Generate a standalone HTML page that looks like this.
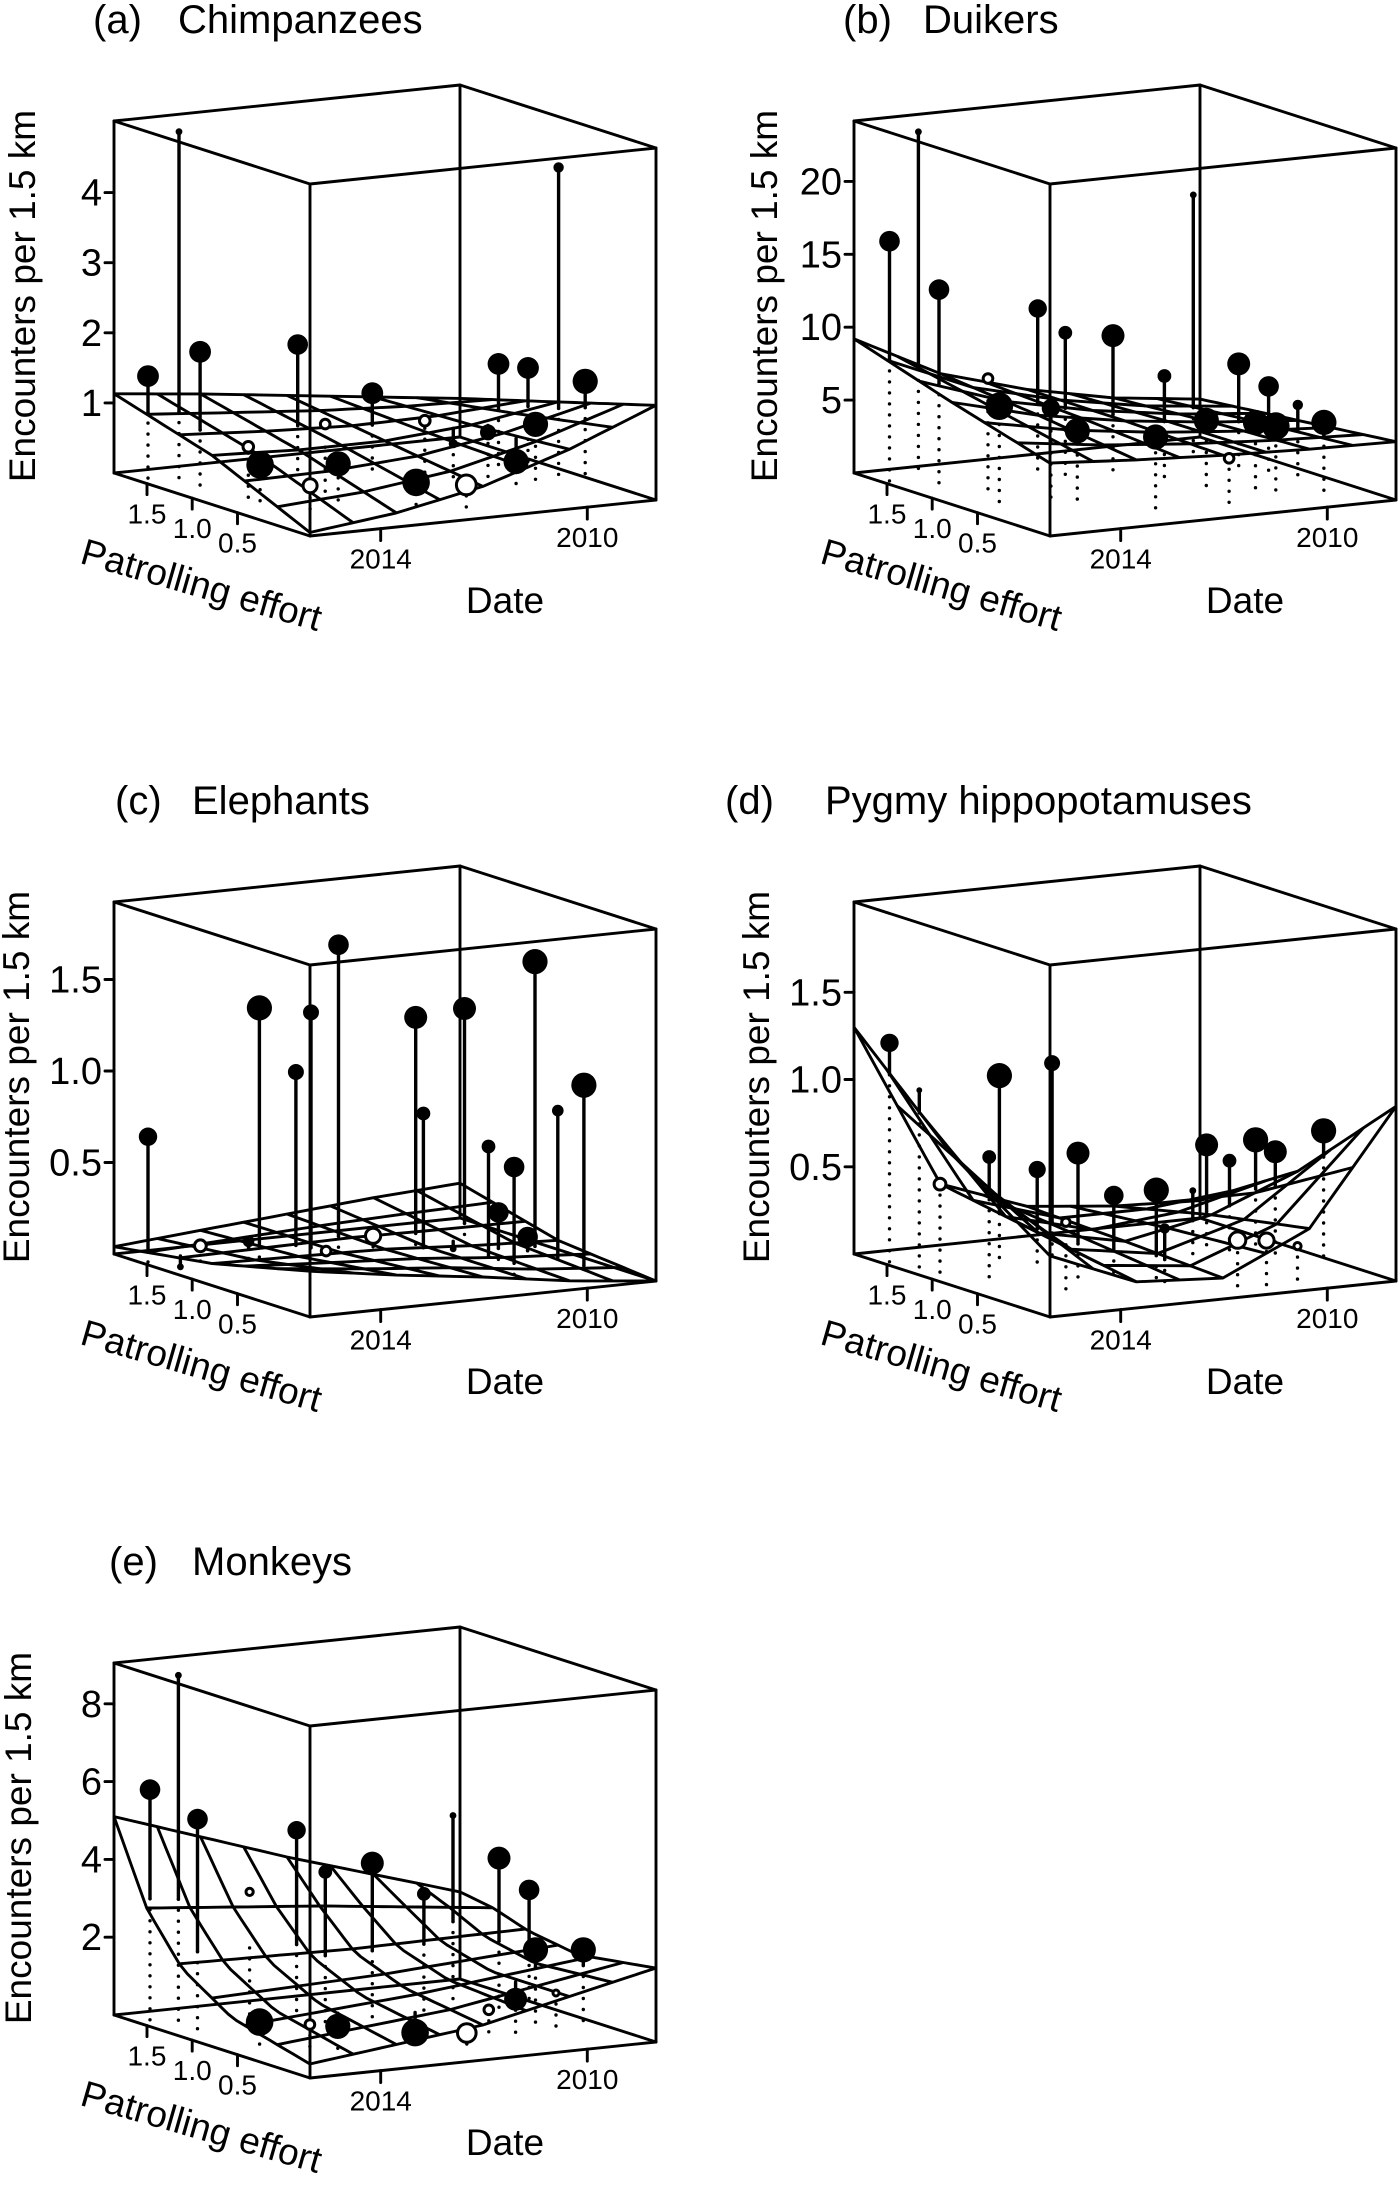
<!DOCTYPE html>
<html><head><meta charset="utf-8"><style>
html,body{margin:0;padding:0;background:#fff;}
svg{display:block;font-family:"Liberation Sans",Arial,sans-serif;}
</style></head><body>
<svg id="fig" width="1400" height="2186" viewBox="0 0 1400 2186" xmlns="http://www.w3.org/2000/svg"></svg>
<script>
// ---------- data ----------
const dateTicks = [2014, 2010];
const effortTicks = [1.5, 1.0, 0.5];
const surfDates5 = [2015.37, 2013.7, 2012.02, 2010.35, 2008.67];
const surfEff3 = [1.864, 0.78, -0.30];

// (a) Chimpanzees
const chimpTicks = [1, 2, 3, 4];
const chimpDate = [2015.28,2014.68,2014.85,2012.96,2011.69,2009.44,2009.06,2009.03,2008.9,2009.67,2010.22,2010.7,2011.06,2013.18,2014.67,2014.81,2013.49,2014.42,2012.56,2011.78,2010.43];
const chimpEffort = [1.54,1.54,1.21,1.21,1.11,1.0,0.89,0.57,0.35,0.46,0.67,0.78,0.89,0.78,0.78,0.57,0.46,0.24,0.13,0.02,0.24];
const chimpValue = [1.51,4.95,1.96,1.92,1.17,1.46,1.42,4.41,1.44,0.84,0.68,0.51,0.82,0.98,0.77,0.61,0.57,0.42,0.37,0.32,0.46];
const chimpWeight = [9.5,3,9.5,9,9.5,9.5,9.5,4.5,11,11,7,4,5.5,5,5.5,12,11,7,12,9.5,11];
const chimpOpen = [0,0,0,0,0,0,0,0,0,0,0,0,1,1,1,0,0,1,0,1,0];
const chimpSurf = [[1.13,1.0,0.85,0.7,0.55],[0.7,0.65,0.65,0.75,0.95],[0.05,0.2,0.45,0.85,1.35]];

// (b) Duikers
const duikTicks = [5, 10, 15, 20];
const duikDate = [2015.25,2014.69,2014.87,2012.96,2012.6,2011.87,2009.56,2011.26,2009.82,2009.61,2009.43,2014.29,2014.65,2013.65,2013.7,2012.57,2011.01,2010.25,2010.05,2009.31,2011.34];
const duikEffort = [1.54,1.54,1.21,1.21,1.11,1.0,1.43,0.78,0.78,0.57,0.35,1.0,0.67,0.67,0.35,0.13,0.46,0.35,0.24,0.13,0.02];
const duikValue = [16.5,23.8,13.7,11.7,10.1,9.86,17.8,7.3,7.6,6.4,5.5,7.8,6.7,6.2,5.3,4.9,4.8,4.6,4.5,4.7,3.2];
const duikWeight = [9,3,9,8,6,10,3,6,10,9,4.5,5,12,8,11,11,11,11,12,11,5];
const duikOpen = [0,0,0,0,0,0,0,0,0,0,0,1,0,0,0,0,0,0,0,0,1];
const duikSurf = [[9.2,6.2,4.5,3.3,2.6],[7.0,5.5,4.5,3.8,3.3],[5.0,4.6,4.3,4.1,4.0]];

// (c) Elephants
const elephTicks = [0.5, 1.0, 1.5];
const elephDate = [2015.28,2013.7,2013.17,2013.07,2012.17,2010.85,2011.28,2009.73,2010.58,2010.47,2009.31,2009.43,2009.31,2010.02,2009.63,2014.65,2013.91,2012.97,2011.5,2015.23,2010.51];
const elephEffort = [1.54,1.21,1.11,1.0,1.21,1.11,0.78,1.21,0.46,0.24,0.67,0.35,0.13,0.67,0.57,1.32,1.21,0.89,1.21,1.21,0.89];
const elephValue = [0.69,1.40,1.05,1.39,1.70,1.28,0.82,1.28,0.67,0.59,1.61,0.85,1.02,0.26,0.13,0.11,0.13,0.10,0.09,0.03,0.04];
const elephWeight = [8,11,7,7,9,10,6,10,6,9,11,5,11,9,9,6,5,5,7.5,3,3];
const elephOpen = [0,0,0,0,0,0,0,0,0,0,0,0,0,0,0,1,0,1,1,0,0];
const elephSurf = [[0.04,0.08,0.12,0.16,0.19],[0.12,0.11,0.1,0.07,0.05],[0.25,0.18,0.12,0.05,0.0]];

// (d) Pygmy hippopotamuses
const hippoTicks = [0.5, 1.0, 1.5];
const hippoDate = [2015.25,2015.06,2013.7,2014.46,2013.53,2012.68,2013.3,2012.8,2012.17,2010.25,2010.0,2009.3,2009.48,2008.93,2015.22,2013.92,2012.2,2011.35,2010.79,2010.19,2010.71];
const hippoEffort = [1.54,1.32,1.21,0.89,0.89,1.21,0.57,0.46,0.35,0.89,0.78,0.89,0.57,0.35,1.0,0.35,0.24,-0.08,-0.08,-0.08,0.78];
const hippoValue = [1.26,1.02,1.08,0.69,0.59,1.12,0.73,0.49,0.52,0.63,0.55,0.63,0.62,0.76,0.54,0.39,0.32,0.28,0.26,0.21,0.40];
const hippoWeight = [8,2.5,11,6,7.5,7,10,8.5,11,10,6,11,10,11,6,4.5,4.5,8,7.5,4,3];
const hippoOpen = [0,0,0,0,0,0,0,0,0,0,0,0,0,0,1,1,0,1,1,1,0];
const hippoSurf = [[1.30,0.35,0.17,0.12,0.10],[0.75,0.25,0.15,0.25,0.45],[0.35,0.15,0.12,0.35,1.0]];

// (e) Monkeys
const monkTicks = [2, 4, 6, 8];
const monkDate = [2015.24,2014.69,2014.9,2012.98,2012.6,2011.69,2010.69,2009.76,2009.43,2009.04,2009.67,2009.13,2010.44,2009.85,2010.96,2013.89,2014.82,2014.23,2013.69,2012.58,2011.77];
const monkEffort = [1.54,1.54,1.21,1.21,1.11,1.11,1.11,1.32,1.0,0.89,0.46,0.24,0.24,0.13,0.24,1.21,0.57,0.35,0.35,0.13,0.02];
const monkValue = [6.02,8.88,5.46,4.91,3.86,3.96,3.03,4.76,3.86,3.07,1.94,2.03,0.94,1.10,0.74,3.45,0.71,0.73,0.61,0.46,0.42];
const monkWeight = [9,3,9,8,6,10,6,3,10,9,11,11,10,3.5,5,4,12,5,11,12,9];
const monkOpen = [0,0,0,0,0,0,0,0,0,0,0,0,0,1,1,1,0,1,0,0,1];
const monkSurfDates = [2015.37, 2012.02, 2008.67];
const monkSurfEff = [1.864, 1.50, 1.11, 0.56, -0.30];
const monkSurf = [[5.1,3.6,2.24],[3.0,2.6,2.1],[1.75,1.7,1.8],[0.9,1.2,1.6],[0.36,0.9,1.9]];

// ---------- rendering ----------
const NS = "http://www.w3.org/2000/svg";
const svg = document.getElementById('fig');
function mk(tag, attrs, parent) {
  const el = document.createElementNS(NS, tag);
  for (const k in attrs) el.setAttribute(k, attrs[k]);
  (parent || svg).appendChild(el);
  return el;
}
const DV = [346, -36], EV = [196, 63], H = 352;
const SW = 2.9;
function tOf(date) { return (2015.37 - date) / 6.70; }
function sOf(eff) { return (1.864 - eff) / 2.165; }

const panels = [
  {key:'chimpanzees', letter:'(a)', title:'Chimpanzees', ox:114, oy:473, k:70.1, lx:93, tx:178, ytx:23, ticks:chimpTicks, dec:0,
   date:chimpDate, eff:chimpEffort, val:chimpValue, w:chimpWeight, open:chimpOpen, sd:surfDates5, se:surfEff3, sz:chimpSurf},
  {key:'duikers', letter:'(b)', title:'Duikers', ox:854, oy:473, k:14.58, lx:843, tx:923, ytx:765, ticks:duikTicks, dec:0,
   date:duikDate, eff:duikEffort, val:duikValue, w:duikWeight, open:duikOpen, sd:surfDates5, se:surfEff3, sz:duikSurf},
  {key:'elephants', letter:'(c)', title:'Elephants', ox:114, oy:1254, k:183, lx:115, tx:192, ytx:17, ticks:elephTicks, dec:1,
   date:elephDate, eff:elephEffort, val:elephValue, w:elephWeight, open:elephOpen, sd:surfDates5, se:surfEff3, sz:elephSurf},
  {key:'pygmy-hippopotamuses', letter:'(d)', title:'Pygmy hippopotamuses', ox:854, oy:1254, k:174.5, lx:725, tx:825, ytx:757, ticks:hippoTicks, dec:1,
   date:hippoDate, eff:hippoEffort, val:hippoValue, w:hippoWeight, open:hippoOpen, sd:surfDates5, se:surfEff3, sz:hippoSurf},
  {key:'monkeys', letter:'(e)', title:'Monkeys', ox:114, oy:2015, k:38.9, lx:109, tx:192, ytx:19, ticks:monkTicks, dec:0,
   date:monkDate, eff:monkEffort, val:monkValue, w:monkWeight, open:monkOpen, sd:monkSurfDates, se:monkSurfEff, sz:monkSurf}
];

function interp1(arr, v) {
  const n = arr.length;
  if (v >= arr[0]) return [0, 0];
  if (v <= arr[n-1]) return [n-2, 1];
  for (let i = 0; i < n-1; i++) {
    if (v <= arr[i] && v >= arr[i+1]) return [i, (arr[i]-v)/(arr[i]-arr[i+1])];
  }
  return [n-2, 1];
}
function surfZ(p, date, eff) {
  const [i, fi] = interp1(p.sd, date);
  const [j, fj] = interp1(p.se, eff);
  const z = p.sz;
  const a = z[j][i]*(1-fi) + z[j][i+1]*fi;
  const b = z[j+1][i]*(1-fi) + z[j+1][i+1]*fi;
  return a*(1-fj) + b*fj;
}

panels.forEach(p => {
  const g = mk('g', {});
  
  
  const P = (t, s, z) => [p.ox + DV[0]*t + EV[0]*s, p.oy + DV[1]*t + EV[1]*s - z*p.k];
  const zTop = H / p.k;
  const line = (a, b, name, extra) => {
    const l = mk('line', Object.assign({x1:a[0].toFixed(1), y1:a[1].toFixed(1), x2:b[0].toFixed(1), y2:b[1].toFixed(1), stroke:'#000', 'stroke-width':SW, 'stroke-linecap':'round'}, extra||{}), g);
    
    
    return l;
  };
  const corners = [[0,0],[0,1],[1,1],[1,0]];
  for (let i = 0; i < 4; i++) {
    const c = corners[i], n = corners[(i+1)%4];
    line(P(c[0],c[1],0), P(n[0],n[1],0), 'box-edge');
    line(P(c[0],c[1],zTop), P(n[0],n[1],zTop), 'box-edge');
    line(P(c[0],c[1],0), P(c[0],c[1],zTop), 'box-edge');
  }
  const dMax = p.sd[0], dMin = p.sd[p.sd.length-1];
  const eMax = p.se[0], eMin = p.se[p.se.length-1];
  const NDG = 8, NEG = 6, SM = 24;
  for (let a = 0; a <= NDG; a++) {
    const d = dMax + (dMin - dMax)*a/NDG;
    const pts = [];
    for (let b = 0; b <= SM; b++) {
      const e = eMax + (eMin - eMax)*b/SM;
      const q = P(tOf(d), sOf(e), surfZ(p, d, e));
      pts.push(q[0].toFixed(1)+','+q[1].toFixed(1));
    }
    const pl = mk('polyline', {points:pts.join(' '), fill:'none', stroke:'#000', 'stroke-width':SW, 'stroke-linejoin':'round'}, g);
    
    
  }
  for (let b = 0; b <= NEG; b++) {
    const e = eMax + (eMin - eMax)*b/NEG;
    const pts = [];
    for (let a = 0; a <= SM; a++) {
      const d = dMax + (dMin - dMax)*a/SM;
      const q = P(tOf(d), sOf(e), surfZ(p, d, e));
      pts.push(q[0].toFixed(1)+','+q[1].toFixed(1));
    }
    const pl = mk('polyline', {points:pts.join(' '), fill:'none', stroke:'#000', 'stroke-width':SW, 'stroke-linejoin':'round'}, g);
    
    
  }
  for (let i = 0; i < p.date.length; i++) {
    const t = tOf(p.date[i]), s = sOf(p.eff[i]);
    const sv = surfZ(p, p.date[i], p.eff[i]);
    const v = p.val[i];
    const low = Math.min(v, sv);
    line(P(t,s,low), P(t,s,0), 'residual-drop-line', {'stroke-width':3.4, 'stroke-dasharray':'0 11', 'stroke-linecap':'round'});
    if (!p.open[i]) line(P(t,s,v), P(t,s,sv), 'residual-stem', {'stroke-width':3.4});
    const c = P(t,s,v);
    const r = p.w[i] * 1.15;
    const circ = mk('circle', {cx:c[0].toFixed(1), cy:c[1].toFixed(1), r:(p.open[i] ? r-1 : r).toFixed(1),
      fill:p.open[i] ? '#fff' : '#000', stroke:'#000', 'stroke-width':p.open[i] ? 3 : 0}, g);
    
    
  }
  p.ticks.forEach(v => {
    const q = P(0,0,v);
    line([q[0]-9, q[1]], q, 'z-tick');
    const tx = mk('text', {x:q[0]-12, y:q[1]+13, 'font-size':38, 'text-anchor':'end', fill:'#000'}, g);
    tx.textContent = v.toFixed(p.dec);
    
    
  });
  effortTicks.forEach(e => {
    const q = P(0, sOf(e), 0);
    line(q, [q[0], q[1]+11], 'effort-tick');
    const tx = mk('text', {x:q[0], y:q[1]+40, 'font-size':28, 'text-anchor':'middle', fill:'#000'}, g);
    tx.textContent = e.toFixed(1);
    
    
  });
  dateTicks.forEach(d => {
    const q = P(tOf(d), 1, 0);
    line(q, [q[0], q[1]+12], 'date-tick');
    const tx = mk('text', {x:q[0], y:q[1]+40, 'font-size':28, 'text-anchor':'middle', fill:'#000'}, g);
    tx.textContent = String(d);
    
    
  });
  const yt = mk('text', {x:0, y:0, 'font-size':37, 'text-anchor':'middle', fill:'#000',
    transform:'translate(' + (p.ytx + 12) + ',' + (p.oy - 177) + ') rotate(-90)'}, g);
  yt.textContent = 'Encounters per 1.5 km';
  
  
  const et = mk('text', {x:0, y:0, 'font-size':37, 'text-anchor':'middle', fill:'#000',
    transform:'translate(' + (p.ox + 84) + ',' + (p.oy + 124) + ') rotate(16)'}, g);
  et.textContent = 'Patrolling effort';
  
  
  const dt = mk('text', {x:p.ox + 391, y:p.oy + 140, 'font-size':37, 'text-anchor':'middle', fill:'#000'}, g);
  dt.textContent = 'Date';
  
  
  const tl = mk('text', {x:p.lx, y:p.oy - 440, 'font-size':40, fill:'#000'}, g);
  tl.textContent = p.letter;
  
  
  const tt = mk('text', {x:p.tx, y:p.oy - 440, 'font-size':40, fill:'#000'}, g);
  tt.textContent = p.title;
  
  
});
</script>
</body></html>
